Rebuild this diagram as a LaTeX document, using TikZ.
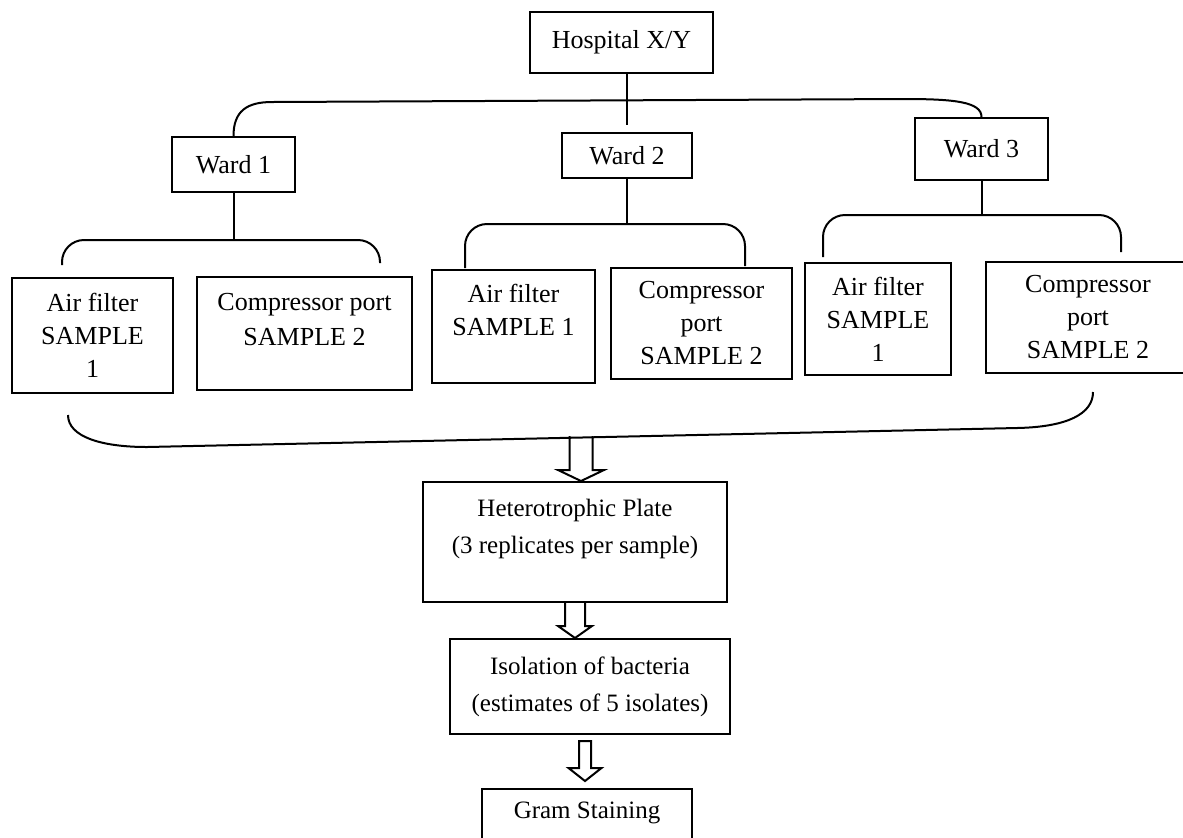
\documentclass[tikz,border=0pt]{standalone}
\usepackage{fontspec}
\setmainfont{Liberation Serif}
\usetikzlibrary{calc,positioning}

% hollow block arrow: start, tip, shaft half width, head half width, head length, end of path
\newcommand{\fatarrow}[6]{%
  \draw let \p1=(#1), \p2=(#2) in
    (\x1-#3,\y1) -- (\x1-#3,\y2+#5) -- (\x1-#4,\y2+#5) -- (\x1,\y2)
    -- (\x1+#4,\y2+#5) -- (\x1+#3,\y2+#5) -- (\x1+#3,\y1) #6;}

\begin{document}
\begin{tikzpicture}[x=0.5pt,y=-0.5pt,line width=1pt,
font=\fontsize{13}{16.5}\selectfont,
box/.style={draw,align=center,inner sep=2pt},
low/.style={box,font=\fontsize{12.5}{18.5}\selectfont},
brack/.style={rounded corners=11pt}]
\useasboundingbox (0,0) rectangle (1183,837);
\node[box,minimum width=91.5pt,minimum height=30.5pt] (hosp) at (621.5,42.5) {Hospital X/Y};
\node[box,minimum width=61.5pt,minimum height=27.5pt] (w1) at (233.5,164.5) {Ward 1};
\node[box,minimum width=65pt,minimum height=22.5pt] (w2) at (627,155.5) {Ward 2};
\node[box,minimum width=66.5pt,minimum height=31pt] (w3) at (981.5,149) {Ward 3};
\node[box,minimum width=80.5pt,minimum height=57.5pt] (af1) at (92.5,335.5) {Air filter\\SAMPLE\\1};
\node[box,minimum width=107.5pt,minimum height=56.5pt] (cp1) at (304.5,333.5) {Compressor port\\[1pt]SAMPLE 2\\[-7pt]\strut};
\node[box,minimum width=81.5pt,minimum height=56.5pt] (af2) at (513.5,326.5) {Air filter\\SAMPLE 1\\[-5pt]\strut};
\node[box,minimum width=90.5pt,minimum height=55.5pt] (cp2) at (701.5,323.5) {Compressor\\port\\SAMPLE 2};
\node[box,minimum width=73pt,minimum height=56pt] (af3) at (878,319) {Air filter\\SAMPLE\\1};
\node[box,minimum width=102pt,minimum height=55.5pt] (cp3) at (1088,317.5) {Compressor\\port\\SAMPLE 2};
\node[low,minimum width=152pt,minimum height=60pt] (het) at (575,542) {Heterotrophic Plate\\(3 replicates per sample)\\[-8pt]\strut};
\node[low,minimum width=140pt,minimum height=47.5pt,below=17.5pt of het,xshift=7.5pt] (iso) {Isolation of bacteria\\(estimates of 5 isolates)};
\node[low,minimum width=105pt,minimum height=45.5pt,below=26.5pt of iso,xshift=-1.5pt] (gram) {Gram Staining\\\strut};
% hospital to wards
\coordinate (barL) at (272,102);
\coordinate (barR) at (905,99);
\draw[shorten >=3.5pt] (w2.north |- hosp.south) -- (w2.north);
\draw (w1.north) .. controls +(0,-25) and +(-25,0) .. (barL) -- (barR) .. controls +(50,0) and +(0,-15) .. (w3.north);
% wards to samples
\coordinate (j1) at (w1.south |- 0,240);
\coordinate (s1l) at (62,265);
\coordinate (s1r) at (380,263);
\draw (w1.south) -- (j1);
\draw[brack] (s1l) |- (j1) -| (s1r);
\coordinate (j2) at (w2.south |- 0,224);
\coordinate (s2l) at (465,268);
\coordinate (s2r) at (745,266);
\draw (w2.south) -- (j2);
\draw[brack] (s2l) |- (j2) -| (s2r);
\coordinate (j3) at (w3.south |- 0,215);
\coordinate (s3l) at (823,257);
\coordinate (s3r) at (1121,252);
\draw (w3.south) -- (j3);
\draw[brack] (s3l) |- (j3) -| (s3r);
% brace under all samples
\coordinate (brL) at (68,415);
\coordinate (brA) at (147,447);
\coordinate (brB) at (1017,428);
\coordinate (brR) at (1093,392);
\coordinate (a1) at (581,436);
\draw (brL) .. controls +(0,22) and +(-45,0) .. (brA) -- (brB) .. controls +(50,-1) and +(0,22) .. (brR);
% processing chain
\fatarrow{a1}{het.north}{5.75pt}{11.5pt}{5.5pt}{}
\fatarrow{het.south}{iso.north}{5pt}{8.5pt}{6pt}{}
\fatarrow{[xshift=-2.5pt,yshift=-3pt]iso.south}{[yshift=3.5pt]gram.north}{3pt}{8.25pt}{6.5pt}{-- cycle}
\end{tikzpicture}
\end{document}
